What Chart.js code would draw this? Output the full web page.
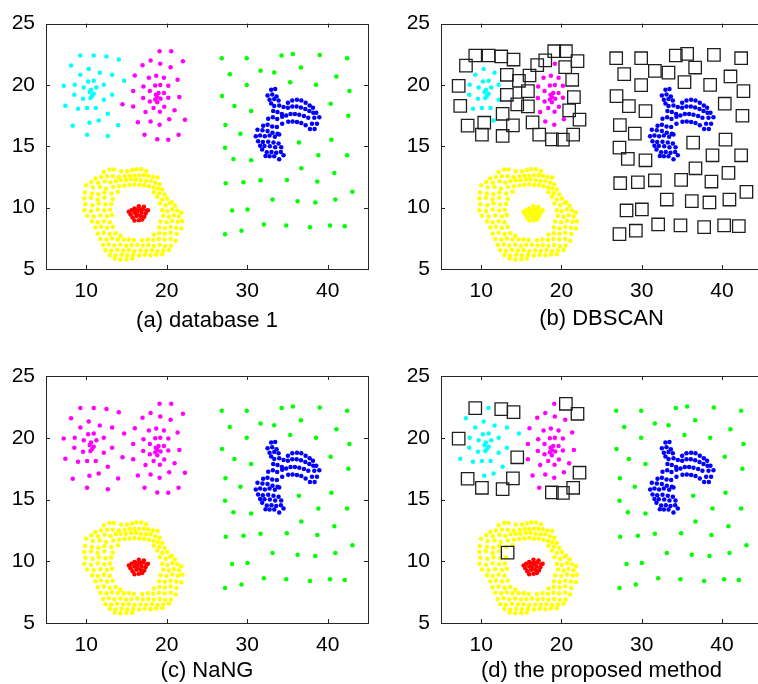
<!DOCTYPE html>
<html><head><meta charset="utf-8">
<script src="https://cdn.jsdelivr.net/npm/chart.js@4/dist/chart.umd.min.js"></script>
<style>
html,body{margin:0;padding:0;background:#fff;overflow:hidden;width:758px;height:684px;position:relative}
canvas{position:absolute}
</style></head><body>
<canvas id="ca" width="379" height="342" style="left:0;top:0"></canvas>
<canvas id="cb" width="400" height="342" style="left:379px;top:0"></canvas>
<canvas id="cc" width="379" height="342" style="left:0;top:342px"></canvas>
<canvas id="cd" width="400" height="342" style="left:379px;top:342px"></canvas>
<script>
const xTicks = [10, 20, 30, 40];
const yTicks = [5, 10, 15, 20, 25];
const captions = ['(a) database 1', '(b) DBSCAN', '(c) NaNG', '(d) the proposed method'];

const cyanPts = [[9.27,22.40],[10.93,22.40],[12.51,22.32],[14.04,22.07],[8.11,21.58],[10.31,21.31],[11.68,20.99],[13.21,20.83],[9.27,20.83],[14.71,20.34],
[10.23,20.28],[10.93,20.34],[7.20,19.93],[8.57,20.01],[9.69,19.80],[11.26,19.80],[12.18,20.01],[10.60,19.61],[10.43,19.42],[10.93,19.28],
[10.72,19.09],[10.52,18.93],[8.52,19.20],[13.21,19.20],[9.60,18.87],[12.18,18.79],[7.40,18.30],[8.98,18.06],[10.10,18.12],[11.18,18.12],
[12.68,17.65],[8.32,16.68],[10.39,16.92],[11.55,17.11],[13.96,16.71],[10.10,15.95],[12.68,15.84]];

const magentaPts = [[19.11,22.75],[20.56,22.75],[17.99,22.00],[16.99,21.61],[19.19,21.72],[20.48,21.45],[22.01,21.94],[16.03,20.77],[17.78,20.58],[18.69,20.75],
[19.65,20.58],[21.35,20.42],[17.11,19.88],[18.57,19.96],[19.19,19.99],[20.19,19.93],[15.83,19.50],[17.90,19.50],[18.98,19.34],[19.65,19.34],
[18.65,19.20],[18.82,19.01],[19.23,18.88],[18.57,18.82],[17.07,18.93],[20.19,18.96],[21.56,19.01],[17.90,18.66],[18.82,18.58],[14.50,18.42],
[15.83,18.25],[18.36,18.12],[19.69,18.23],[17.36,17.79],[19.15,17.82],[20.97,17.93],[20.31,17.20],[22.26,17.17],[16.41,16.95],[17.99,17.03],
[19.11,16.76],[17.24,15.95],[18.82,15.57],[20.19,15.54],[21.47,15.95]];

const redPts = [[15.29,9.66],[15.62,9.79],[15.99,9.93],[16.53,10.12],[17.03,9.90],[17.49,9.74],[15.50,9.44],[15.99,9.58],[16.41,9.74],[16.87,9.58],
[17.37,9.52],[15.75,9.20],[16.24,9.31],[16.74,9.31],[17.20,9.25],[15.99,8.95],[16.53,8.98],[16.95,9.04],[16.33,9.47],[16.66,9.85],
[16.16,9.85],[17.66,9.79],[17.16,10.07]];

const yellowPts = [
[12.18,12.91],[12.88,13.10],[13.42,13.10],[14.33,12.97],[15.08,12.97],[15.70,13.05],[16.24,13.13],[16.83,13.13],[17.45,12.99],
[11.14,12.37],[11.84,12.50],[12.59,12.56],[13.30,12.56],[14.04,12.50],[14.79,12.56],[15.41,12.61],[15.99,12.61],[16.58,12.64],[17.16,12.64],[17.70,12.59],[18.28,12.50],[18.86,12.45],
[10.64,12.10],[11.47,12.02],[12.30,12.15],[13.01,12.05],[13.67,12.18],[14.29,12.23],[14.92,12.23],[15.58,12.29],[16.16,12.29],[16.78,12.23],[17.41,12.18],[17.99,12.18],[18.57,12.02],[19.11,11.91],
[9.98,11.83],[10.81,11.64],[11.68,11.69],[12.47,11.56],[13.34,11.69],[14.09,11.75],[14.75,11.80],[15.37,11.85],[15.99,11.88],[16.62,11.85],[17.20,11.83],[17.78,11.75],[18.36,11.64],[18.90,11.56],[19.44,11.47],
[9.85,11.23],[10.72,11.15],[11.51,11.10],[12.26,11.23],[13.13,11.15],[13.92,11.30],[18.40,11.26],[19.07,11.18],[19.73,11.07],
[9.77,10.74],[10.60,10.80],[11.43,10.66],[12.26,10.80],[18.82,10.88],[19.44,10.66],[20.06,10.74],[20.60,10.45],
[9.89,10.28],[10.77,10.20],[11.55,10.33],[12.38,10.25],[13.10,10.30],[19.15,10.33],[19.86,10.20],[20.40,10.37],[21.02,10.15],
[9.77,9.79],[10.60,9.72],[11.43,9.84],[12.26,9.76],[12.95,9.82],[19.44,9.79],[20.06,9.70],[20.69,9.84],[21.31,9.76],[21.81,9.60],
[10.10,9.33],[10.93,9.28],[11.76,9.36],[12.59,9.30],[13.20,9.40],[19.57,9.33],[20.27,9.25],[20.89,9.38],[21.52,9.28],
[10.72,8.87],[11.43,8.80],[12.18,8.90],[12.92,8.82],[19.23,8.87],[19.98,8.80],[20.69,8.92],[21.39,8.85],[21.93,8.90],
[11.14,8.39],[11.84,8.45],[12.59,8.36],[13.30,8.42],[19.07,8.39],[19.77,8.33],[20.48,8.42],[21.18,8.36],[21.81,8.30],
[11.43,7.90],[12.18,7.95],[12.92,7.85],[13.63,7.92],[14.25,7.70],[18.40,7.80],[19.07,7.92],[19.77,7.88],[20.48,7.95],[21.23,7.85],
[11.76,7.44],[12.51,7.40],[13.21,7.48],[13.92,7.40],[14.67,7.40],[15.29,7.40],[15.91,7.36],[16.95,7.34],[17.66,7.40],[18.32,7.36],[19.02,7.44],[19.73,7.40],[20.48,7.44],[21.10,7.30],
[12.09,6.95],[12.80,7.00],[13.50,6.92],[14.25,6.98],[14.96,6.90],[15.62,6.95],[16.33,6.98],[17.03,6.92],[17.70,6.95],[18.40,6.90],[19.11,6.95],[19.81,6.88],[20.52,6.90],
[12.38,6.52],[13.09,6.48],[13.84,6.55],[14.58,6.50],[15.29,6.52],[15.99,6.45],[16.74,6.50],[17.45,6.48],[18.15,6.52],[18.86,6.45],[19.57,6.50],[20.27,6.55],
[12.92,6.14],[13.63,6.10],[14.38,6.16],[15.08,6.12],[15.83,6.14],[16.58,6.10],[17.28,6.16],[17.99,6.12],[18.69,6.18],[19.44,6.20],
[13.55,5.85],[14.25,5.78],[15.00,5.80],[15.70,5.85],
[13.30,10.70]];

const greenPts = [[26.83,22.18],[29.94,22.18],[34.26,22.40],[35.67,22.53],[39.01,22.45],[42.40,22.18],[27.83,20.88],[31.65,21.15],[33.35,21.01],[36.67,21.42],
[41.07,20.69],[29.94,19.99],[35.34,20.23],[38.54,20.01],[42.69,19.50],[26.87,19.09],[28.41,18.28],[30.48,17.87],[40.36,18.47],[42.56,17.49],
[27.29,16.73],[29.15,16.03],[36.42,15.30],[40.45,15.54],[27.24,14.89],[28.28,13.97],[30.48,13.86],[38.83,14.27],[42.40,14.27],[36.71,13.21],
[40.82,12.83],[27.33,11.99],[29.53,12.07],[31.65,12.23],[34.92,12.26],[38.70,12.13],[43.06,11.29],[33.14,10.66],[36.25,10.53],[38.45,10.42],
[40.94,10.66],[28.12,9.77],[30.03,9.85],[32.06,8.63],[34.84,8.55],[37.79,8.41],[40.28,8.55],[42.11,8.49],[27.24,7.84],[29.28,8.12]];

const bluePts = [
[32.97,19.61],[33.47,19.66],[32.52,19.14],[33.10,19.23],[33.64,19.06],[32.77,18.79],[33.35,18.85],[33.89,18.74],[32.97,18.49],
[35.05,18.55],[35.59,18.74],[36.17,18.79],[36.71,18.74],[37.25,18.55],[37.75,18.33],[38.16,18.14],
[33.35,18.28],[33.97,18.33],[34.51,18.20],[35.05,18.14],[35.59,18.25],[36.13,18.25],[36.67,18.17],[37.21,18.03],[37.71,17.87],[38.20,17.74],[38.58,17.74],
[33.22,17.87],[33.76,17.79],[34.30,17.63],[34.84,17.52],[35.38,17.63],[35.92,17.63],[36.46,17.57],[37.04,17.46],[37.58,17.33],[38.33,17.33],[38.95,17.36],
[32.60,17.25],[33.18,17.36],[33.72,17.22],[34.34,17.41],[35.09,17.00],[35.63,17.03],[36.17,16.98],[36.71,16.90],[37.25,16.71],[38.04,16.84],[38.66,16.84],
[31.98,16.68],[32.52,16.76],[33.10,16.62],[33.68,16.57],[34.34,16.84],[37.79,16.41],[38.37,16.41],
[31.27,16.35],[31.89,16.30],[32.52,16.25],[33.14,16.11],[33.76,16.03],
[31.06,15.81],[31.60,15.89],[32.18,15.81],[32.77,15.89],[33.43,15.78],[33.97,15.97],
[31.35,15.41],[31.94,15.35],[32.60,15.38],[33.26,15.30],[33.89,15.22],
[31.60,15.05],[32.14,15.03],[32.81,15.00],[33.47,14.92],[34.22,14.92],
[31.85,14.73],[32.43,14.51],[33.01,14.54],[33.60,14.48],[34.18,14.54],
[32.27,14.21],[32.77,14.19],[33.35,14.19],[33.97,13.94],[34.51,14.27]];

// noise (square) assignments, as indices into the cluster arrays
const dbscanCyanNoise = [0,1,2,3,4,7,9,12,23,26,30,31,32,34,35,36];
const dbscanMagentaNoise = [0,1,2,3,5,6,7,11,16,26,29,30,35,37,38,41,42,43,44];
const proposedCyanNoise = [0,2,3,12,31,34,35,36];
const proposedMagentaNoise = [1,6,29,37,42,43,44];
const proposedYellowNoise = [yellowPts.length - 1];

const C = {cyan:'#00ffff', magenta:'#ff00ff', yellow:'#ffff00', red:'#ff0000', green:'#00ff00', blue:'#0000ff'};
const FONT = '"Liberation Sans", Arial, sans-serif';

function toXY(a){return a.map(p=>({x:p[0],y:p[1]}));}
function pick(a,idx){return idx.map(i=>a[i]);}
function omit(a,idx){return a.filter((_,i)=>!idx.includes(i));}
function dots(a,color){return {data:toXY(a),pointStyle:'circle',pointRadius:2.25,pointHoverRadius:2.25,pointBackgroundColor:color,pointBorderWidth:0,showLine:false};}
function squares(a){return {data:toXY(a),pointStyle:'rect',pointRadius:8.8,pointHoverRadius:8.8,pointBackgroundColor:'rgba(0,0,0,0)',pointBorderColor:'#1e1e1e',pointBorderWidth:1.3,showLine:false};}

const framePlugin = {
  id:'frame',
  afterDraw(chart, args, opts){
    const {ctx, chartArea:a} = chart;
    const xs = chart.scales.x, ys = chart.scales.y;
    ctx.save();
    ctx.strokeStyle = '#262626'; ctx.lineWidth = 1;
    ctx.strokeRect(Math.round(a.left)+0.5, Math.round(a.top)+0.5, Math.round(a.right-a.left), Math.round(a.bottom-a.top));
    ctx.beginPath();
    xTicks.forEach(v=>{const p=Math.round(xs.getPixelForValue(v))+0.5;
      ctx.moveTo(p,a.bottom); ctx.lineTo(p,a.bottom-4); ctx.moveTo(p,a.top); ctx.lineTo(p,a.top+4);});
    yTicks.forEach(v=>{const p=Math.round(ys.getPixelForValue(v))+0.5;
      ctx.moveTo(a.left,p); ctx.lineTo(a.left+4,p); ctx.moveTo(a.right,p); ctx.lineTo(a.right-4,p);});
    ctx.stroke();
    ctx.fillStyle = '#000';
    ctx.font = '22px ' + FONT;
    ctx.textAlign = 'center'; ctx.textBaseline = 'middle';
    ctx.fillText(opts.caption, (a.left+a.right)/2, a.bottom + opts.capOffset);
    ctx.restore();
  }
};

function makePanel(id, datasets, caption, yW, xH, pad, capOffset){
  return new Chart(document.getElementById(id), {
    type:'scatter',
    data:{datasets},
    options:{
      responsive:false, animation:false, events:[],
      layout:{padding:pad},
      plugins:{legend:{display:false}, tooltip:{enabled:false}, frame:{caption, capOffset}},
      scales:{
        x:{type:'linear', min:5, max:45,
           afterBuildTicks:s=>{s.ticks = xTicks.map(v=>({value:v}));},
           afterFit:s=>{s.height = xH;},
           grid:{display:false, drawTicks:false}, border:{display:false},
           ticks:{font:{family:FONT,size:21}, color:'#000', padding:10, maxRotation:0, autoSkip:false}},
        y:{type:'linear', min:5, max:25,
           afterBuildTicks:s=>{s.ticks = yTicks.map(v=>({value:v}));},
           afterFit:s=>{s.width = yW;},
           grid:{display:false, drawTicks:false}, border:{display:false},
           ticks:{font:{family:FONT,size:21}, color:'#000', padding:11, autoSkip:false}}
      }
    },
    plugins:[framePlugin]
  });
}

// (a) database 1
makePanel('ca', [
  dots(bluePts,C.blue), dots(greenPts,C.green), dots(redPts,C.red), dots(yellowPts,C.yellow),
  dots(magentaPts,C.magenta), dots(cyanPts,C.cyan)
], captions[0], 46, 73, {left:0,top:23,right:11,bottom:0}, 52);

// (b) DBSCAN
makePanel('cb', [
  squares(pick(cyanPts,dbscanCyanNoise).concat(pick(magentaPts,dbscanMagentaNoise), greenPts)),
  dots(bluePts,C.blue), dots(redPts,C.yellow), dots(yellowPts,C.yellow),
  dots(omit(magentaPts,dbscanMagentaNoise),C.magenta), dots(omit(cyanPts,dbscanCyanNoise),C.cyan)
], captions[1], 62, 73, {left:0,top:23,right:17,bottom:0}, 50);

// (c) NaNG
makePanel('cc', [
  dots(bluePts,C.blue), dots(greenPts,C.green), dots(redPts,C.red), dots(yellowPts,C.yellow),
  dots(magentaPts,C.magenta), dots(cyanPts,C.magenta)
], captions[2], 46, 61, {left:0,top:34,right:11,bottom:0}, 48);

// (d) the proposed method
makePanel('cd', [
  squares(pick(cyanPts,proposedCyanNoise).concat(pick(magentaPts,proposedMagentaNoise), pick(yellowPts,proposedYellowNoise))),
  dots(bluePts,C.blue), dots(greenPts,C.green), dots(redPts,C.red), dots(omit(yellowPts,proposedYellowNoise),C.yellow),
  dots(omit(magentaPts,proposedMagentaNoise),C.magenta), dots(omit(cyanPts,proposedCyanNoise),C.cyan)
], captions[3], 62, 61, {left:0,top:34,right:17,bottom:0}, 48);
</script>
</body></html>
